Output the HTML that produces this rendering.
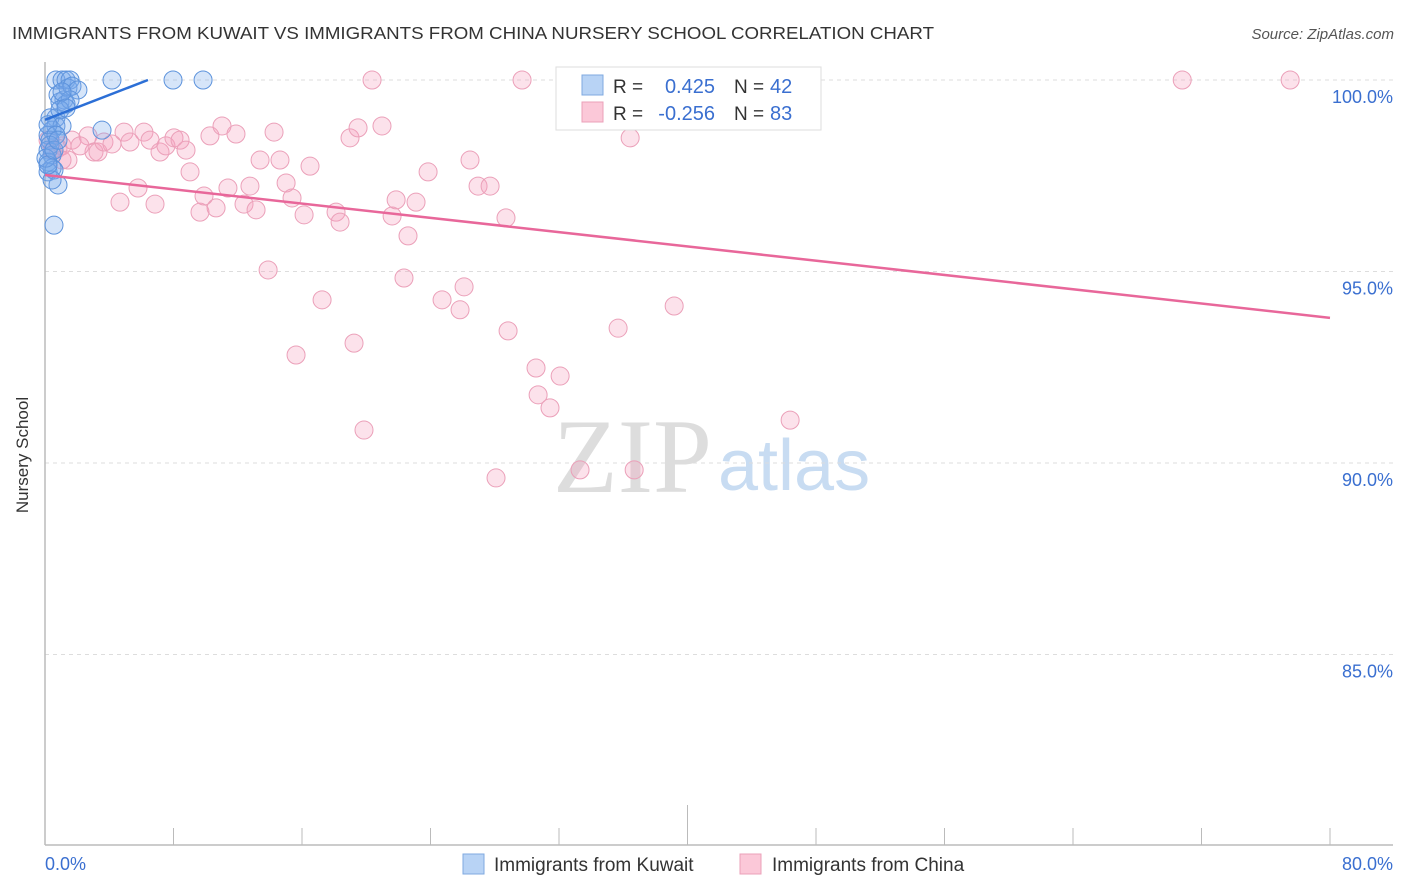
<!DOCTYPE html>
<html><head><meta charset="utf-8"><style>
body{margin:0;background:#fff;font-family:"Liberation Sans",sans-serif}
svg{display:block}
</style></head><body>
<svg id="chart" width="1406" height="892" xmlns="http://www.w3.org/2000/svg">
<text x="12" y="39" font-size="17.5" fill="#333" textLength="922" lengthAdjust="spacingAndGlyphs">IMMIGRANTS FROM KUWAIT VS IMMIGRANTS FROM CHINA NURSERY SCHOOL CORRELATION CHART</text>
<text x="1394" y="39" font-size="15" font-style="italic" fill="#555" text-anchor="end">Source: ZipAtlas.com</text>
<text x="28" y="455" font-size="17" fill="#333" text-anchor="middle" transform="rotate(-90 28 455)">Nursery School</text>
<g><text x="553" y="492" font-family="Liberation Serif,serif" font-size="106" fill="#ddd">ZIP</text><text x="718" y="490" font-size="72" fill="#c8dcf2">atlas</text></g>
<g id="grid"></g><g id="axes"></g><g id="pts"></g><g id="trend"></g>
<g>
<rect x="556" y="67" width="265" height="63" fill="#fff" stroke="#ddd"/>
<rect x="582" y="75" width="21" height="20" fill="#b8d3f5" stroke="#7fa9e0"/>
<rect x="582" y="102" width="21" height="20" fill="#fbc8d8" stroke="#eba0b9"/>
<text x="613" y="93" font-size="19" fill="#333">R =</text><text x="715" y="93" font-size="20" fill="#3a6fd0" text-anchor="end">0.425</text>
<text x="734" y="93" font-size="19" fill="#333">N =</text><text x="770" y="93" font-size="20" fill="#3a6fd0">42</text>
<text x="613" y="120" font-size="19" fill="#333">R =</text><text x="715" y="120" font-size="20" fill="#3a6fd0" text-anchor="end">-0.256</text>
<text x="734" y="120" font-size="19" fill="#333">N =</text><text x="770" y="120" font-size="20" fill="#3a6fd0">83</text>
</g>
<g>
<rect x="463" y="854" width="21" height="20" fill="#b8d3f5" stroke="#7fa9e0"/>
<text x="494" y="871" font-size="19" fill="#333">Immigrants from Kuwait</text>
<rect x="740" y="854" width="21" height="20" fill="#fbc8d8" stroke="#eba0b9"/>
<text x="772" y="871" font-size="19" fill="#333">Immigrants from China</text>
</g>
</svg>
<script>
const xTicks=[0,8,16,24,32,40,48,56,64,72,80];
const yTicks=[100,95,90,85];
const yTickLabels=["100.0%","95.0%","90.0%","85.0%"];
const xEndLabels=["0.0%","80.0%"];
const kuwaitX=[0.68,1.06,1.31,1.56,0.81,1.18,1.43,1.68,2.05,0.93,1.31,1.56,0.68,0.31,0.44,0.68,1.06,0.19,0.31,0.19,0.44,0.19,0.44,0.19,0.56,0.81,0.56,3.55,4.17,7.97,9.84,1.06,0.19,0.68,0.31,0.06,0.93,1.31,0.44,0.19,0.56,0.81];
const kuwaitY=[100,100,100,100,99.61,99.48,99.79,99.84,99.74,99.43,99.37,99.48,99.01,99.01,98.69,98.8,98.8,98.56,98.43,98.17,98.04,97.86,97.7,97.6,97.65,97.26,96.21,98.69,100,100,100,99.69,98.83,98.56,98.3,97.96,99.22,99.27,97.39,97.78,98.17,98.43];
const chinaX=[0.19,0.44,0.81,1.06,1.43,1.68,2.68,3.05,3.3,3.67,4.17,4.67,4.92,5.29,5.79,6.16,6.54,6.85,7.16,7.53,8.03,8.41,8.78,9.03,9.65,9.9,10.27,10.65,11.02,11.39,11.89,12.39,12.76,13.14,13.39,13.89,14.26,14.63,15.01,15.38,15.63,16.13,16.5,17.25,18.12,18.37,18.99,19.24,19.49,19.86,20.36,20.98,21.61,21.86,22.35,22.6,23.1,23.85,24.72,25.84,26.09,26.46,26.96,27.71,28.08,28.7,28.83,29.7,30.57,30.7,31.44,32.07,32.94,33.31,35.68,36.43,36.68,39.17,46.39,70.8,77.52,1.06,2.18];
const chinaY=[98.43,98.17,98.22,98.28,97.91,98.43,98.54,98.12,98.12,98.38,98.33,96.81,98.64,98.38,97.18,98.64,98.43,96.76,98.12,98.28,98.49,98.43,98.17,97.6,96.55,96.97,98.54,96.66,98.8,97.18,98.59,96.76,97.23,96.61,97.91,95.04,98.64,97.91,97.31,96.92,92.82,96.48,97.75,94.26,96.55,96.29,98.49,93.13,98.75,90.86,100,98.8,96.45,96.87,94.83,95.93,96.81,97.6,94.26,94,94.6,97.91,97.23,97.23,89.61,96.4,93.45,100,92.48,91.78,91.44,92.27,100,89.82,93.52,98.49,89.82,94.1,91.12,100,100,97.91,98.28];
const kuwaitTrend=[[0,98.96],[6.41,100]];
const chinaTrend=[[0,97.52],[80,93.79]];
const NS="http://www.w3.org/2000/svg";
const X=v=>45+v/80*1285;
const Y=v=>80+(100-v)*38.3;
function mk(t,a,p){const e=document.createElementNS(NS,t);for(const k in a)e.setAttribute(k,a[k]);document.getElementById(p).appendChild(e);return e;}
yTicks.forEach((t,i)=>{
 const l=mk('line',{x1:45,x2:1393,y1:Y(t),y2:Y(t),stroke:'#ddd','stroke-dasharray':'4,4'},'grid');
 
 
 const tx=mk('text',{x:1393,y:Y(t)+23,'font-size':18,fill:'#3a6fd0','text-anchor':'end'},'axes');
 tx.textContent=yTickLabels[i];
 
 
});
const ax=mk('line',{x1:45,x2:1393,y1:845,y2:845,stroke:'#bbb','stroke-width':1.5},'axes');


const ay=mk('line',{x1:45,x2:45,y1:62,y2:845,stroke:'#bbb','stroke-width':1.5},'axes');


xTicks.forEach((t,i)=>{
 const tk=mk('line',{x1:X(t),x2:X(t),y1:i==5?805:828,y2:845,stroke:'#bbb'},'axes');
 
 
});
[[0,'start',45],[1,'end',1393]].forEach(([i,a,x])=>{
 const tx=mk('text',{x:x,y:870,'font-size':18,fill:'#3a6fd0','text-anchor':a},'axes');
 tx.textContent=xEndLabels[i];
 
 
});
chinaX.forEach((v,i)=>{
 const c=mk('circle',{cx:X(v),cy:Y(chinaY[i]),r:9,fill:'rgba(245,160,190,0.3)',stroke:'#eba0b9','stroke-width':1},'pts');
 
 
});
kuwaitX.forEach((v,i)=>{
 const c=mk('circle',{cx:X(v),cy:Y(kuwaitY[i]),r:9,fill:'rgba(120,170,235,0.3)',stroke:'#5d93dc','stroke-width':1},'pts');
 
 
});
const t1=mk('line',{x1:X(kuwaitTrend[0][0]),y1:Y(kuwaitTrend[0][1]),x2:X(kuwaitTrend[1][0]),y2:Y(kuwaitTrend[1][1]),stroke:'#2c6fd6','stroke-width':2.5},'trend');


const t2=mk('line',{x1:X(chinaTrend[0][0]),y1:Y(chinaTrend[0][1]),x2:X(chinaTrend[1][0]),y2:Y(chinaTrend[1][1]),stroke:'#e8679a','stroke-width':2.5},'trend');


</script>
</body></html>
